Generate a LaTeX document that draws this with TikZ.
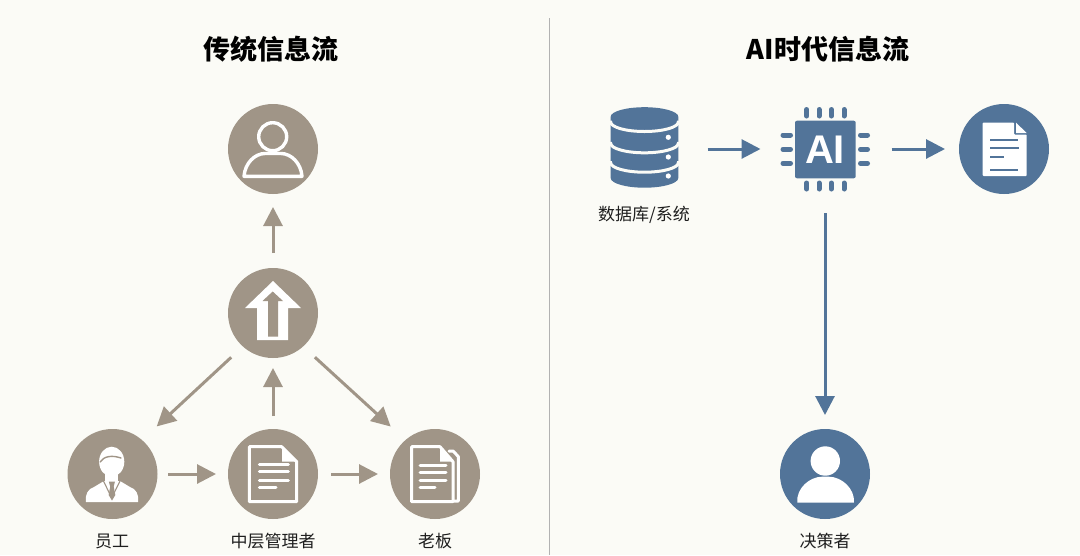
\documentclass[tikz,border=0pt]{standalone}
\usepackage{fontspec}
\setmainfont{Noto Sans CJK SC}
\newfontfamily\cjklight{Noto Sans CJK SC}
\newfontfamily\cjkbold{Noto Sans CJK SC Bold}
\newfontfamily\latinbold{Liberation Sans Bold}
\usetikzlibrary{arrows.meta}
\definecolor{bgc}{HTML}{FBFBF6}
\definecolor{tan}{HTML}{A09587}
\definecolor{steel}{HTML}{527499}
\definecolor{ink}{HTML}{1E1E1E}
\tikzset{
  disc/.style={circle,minimum size=90pt,inner sep=0pt,outer sep=0pt,fill=#1},
  tanarrow/.style={draw=tan,line width=3pt,-{Triangle[length=19pt,width=19pt]}},
  bluearrow/.style={draw=steel,line width=3pt,-{Triangle[length=19pt,width=19pt]}},
  titletext/.style={font=\fontsize{27}{30}\cjkbold\bfseries,text=black,inner sep=0pt},
  labeltext/.style={font=\fontsize{17}{20}\cjklight,text=ink,inner sep=0pt},
  ico/.style={draw=white,line width=3pt,line join=round,line cap=round},
  icotan/.style={draw=tan,line width=1.4pt,line cap=round},
}
\begin{document}
\begin{tikzpicture}[x=1pt,y=-1pt]
\useasboundingbox (0,0) rectangle (1080,555);
\fill[bgc] (0,0) rectangle (1080,555);
\draw[draw=black!30,line width=1pt] (549,18) -- (549,555);
% titles
\node[titletext] (t1) at (271,49) {传统信息流};
\node[titletext] (t2) at (828,49) {AI时代信息流};
% discs
\node[disc=tan] (top) at (273,149) {};
\node[disc=tan] (mid) at (273,313) {};
\node[disc=tan] (emp) at (112.5,474) {};
\node[disc=tan] (mgr) at (273,474) {};
\node[disc=tan] (boss) at (435,474) {};
\node[disc=steel] (rdoc) at (1004,149) {};
\node[disc=steel] (dec) at (825,474) {};
\node[minimum width=68pt,minimum height=80pt,inner sep=0pt,outer sep=0pt] (db) at (644.5,147.5) {};
\node[minimum width=89pt,minimum height=84pt,inner sep=0pt,outer sep=0pt] (chip) at (825,149) {};
% labels
\node[labeltext] (l1) at (112,541) {员工};
\node[labeltext] (l2) at (273,541) {中层管理者};
\node[labeltext] (l3) at (435,541) {老板};
\node[labeltext] (l4) at (644,215) {数据库/系统};
\node[labeltext] (l5) at (825,541) {决策者};
% left connectors
\draw[tanarrow,shorten <=15pt,shorten >=13pt] (mid) -- (top);
\draw[tanarrow,shorten <=13pt,shorten >=10pt] (mgr) -- (mid);
\draw[tanarrow,shorten <=10.5pt,shorten >=12pt] (emp) -- (mgr);
\draw[tanarrow,shorten <=13pt,shorten >=12pt] (mgr) -- (boss);
\draw[tanarrow,shorten <=16pt,shorten >=20pt] (mid.228) -- (emp.49);
\draw[tanarrow,shorten <=16pt,shorten >=20pt] (mid.312) -- (boss.131);
% right connectors
\draw[bluearrow,shorten <=29pt,shorten >=20pt] (db.east|-chip.west) -- (chip.west);
\draw[bluearrow,shorten <=22pt,shorten >=14pt] (chip.east) -- (rdoc.west);
\draw[bluearrow,shorten <=22pt,shorten >=14pt] (chip.south) -- (dec.north);
% top person outline
\draw[ico,line width=3.4pt] (272.7,136.7) circle (14);
\draw[ico,line width=3.4pt] (244,176.3) .. controls (245,163) and (255,153.5) .. (265,153.5)
  -- (281,153.5) .. controls (291,153.5) and (301,163) .. (302,176.3) -- cycle;
% double arrow
\fill[white] (273,281) -- (245,308) -- (257,308) -- (257,340) -- (288,340) -- (288,308) -- (301,308) -- cycle;
\fill[tan] (272.7,291.5) -- (262.5,301) -- (268,301) -- (268,336.5) -- (278,336.5) -- (278,301) -- (283,301) -- cycle;
% employee
\fill[white] (111.7,461.7) ellipse (12.6 and 15);
\draw[icotan] (100,462) .. controls (104,456) and (112,455) .. (121,458);
\fill[white] (86,502) .. controls (85,494) and (88,489) .. (94,487) -- (104,481) -- (120,481) -- (130,487)
  .. controls (136,489) and (139,494) .. (138,502) -- cycle;
\fill[white] (105,470) rectangle (118,484);
\draw[icotan,line width=1.1pt] (103,480) -- (111.7,498) -- (120.5,480);
\fill[tan] (108.8,481.5) -- (115,481.5) -- (113.7,486.5) -- (115.3,495) -- (112,500.5) -- (108.7,495) -- (110.2,486.5) -- cycle;
% manager document
\draw[ico] (249.3,446.7) -- (281.7,446.7) -- (296.7,461.7) -- (296.7,501.7) -- (249.3,501.7) -- cycle;
\fill[white] (282,446.7) -- (296.7,461.7) -- (282,461.7) -- cycle;
\foreach \yy in {464.3,471.7,480} \draw[ico] (259.3,\yy) -- (288.3,\yy);
\draw[ico] (259.3,487.3) -- (276,487.3);
% boss documents
\draw[ico] (411.7,446.7) -- (440,446.7) -- (453,461.7) -- (453,501.7) -- (411.7,501.7) -- cycle;
\fill[white] (440,446.7) -- (453,461.7) -- (440,461.7) -- cycle;
\draw[ico] (449,451) -- (453,451) -- (458.3,456.5) -- (458.3,501) -- (453,501);
\foreach \yy in {465,472.3,480} \draw[ico] (420,\yy) -- (446,\yy);
\draw[ico] (420,487.7) -- (435,487.7);
% database
\fill[steel] (610.7,116.7) arc[start angle=180,end angle=360,x radius=33.8,y radius=9.5]
  -- (678.3,178) arc[start angle=0,end angle=180,x radius=33.8,y radius=9.7] -- cycle;
\foreach \yy in {122,143.3,162.7}
  \draw[draw=bgc,line width=3pt] (608,\yy) -- (610.7,\yy) arc[start angle=180,end angle=0,x radius=33.8,y radius=9.5] -- (681,\yy);
\foreach \yy in {137.3,157,176} \fill[white] (668.3,\yy) circle (2.6);
% chip
\fill[steel,rounded corners=2pt] (795,120.7) rectangle (855.7,178.3);
\foreach \xx in {806.7,819,831.3,844} {
  \draw[draw=steel,line width=5pt,line cap=round] (\xx,109.5) -- (\xx,116);
  \draw[draw=steel,line width=5pt,line cap=round] (\xx,183) -- (\xx,189);
}
\foreach \yy in {135,149.3,163.3} {
  \draw[draw=steel,line width=5pt,line cap=round] (783,\yy) -- (790.5,\yy);
  \draw[draw=steel,line width=5pt,line cap=round] (860.5,\yy) -- (867.5,\yy);
}
\node[font=\fontsize{40}{40}\latinbold,text=white,inner sep=0pt] (ai) at (825,149.5) {AI};
% right document
\fill[white,rounded corners=0.8pt] (982.7,122.7) -- (1014,122.7) -- (1014,134.5) -- (1026.7,134.5) -- (1026.7,176) -- (982.7,176) -- cycle;
\fill[white] (1016,122.7) -- (1026.7,133) -- (1016,133) -- cycle;
\foreach \yy/\xe in {140/1018.3,148.3/1019,157.3/1003.5,170/1018.3}
  \draw[draw=steel,line width=2.2pt] (990,\yy) -- (\xe,\yy);
% decision maker
\fill[white] (825.3,461) circle (14.7);
\fill[white] (797.3,502.7) .. controls (796,488) and (810,476.7) .. (822,476.7) -- (829,476.7)
  .. controls (841,476.7) and (855,488) .. (854,502.7) -- cycle;
\end{tikzpicture}
\end{document}
